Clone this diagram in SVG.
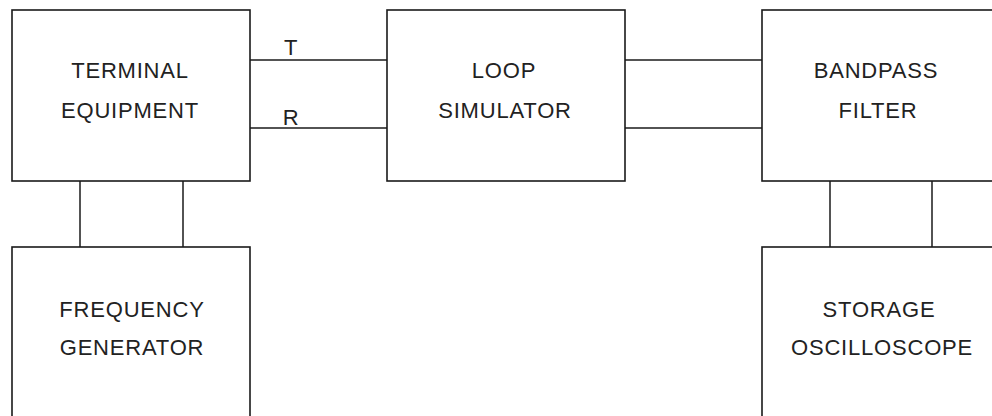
<svg xmlns="http://www.w3.org/2000/svg" width="992" height="416" viewBox="0 0 992 416">
<style>
.box{fill:#fff;stroke:#1a1a1a;stroke-width:1.6}
.wire{fill:none;stroke:#1a1a1a;stroke-width:1.5}
text{font-family:"Liberation Sans",Arial,sans-serif;font-size:22px;fill:#222;text-anchor:middle;letter-spacing:0.8px}
</style>
<rect width="992" height="416" fill="#fff"/>
<g id="connectors">
<line class="wire" x1="250" y1="60" x2="387" y2="60"/>
<line class="wire" x1="250" y1="128" x2="387" y2="128"/>
<line class="wire" x1="625" y1="60" x2="762" y2="60"/>
<line class="wire" x1="625" y1="128" x2="762" y2="128"/>
<line class="wire" x1="80" y1="181" x2="80" y2="247"/>
<line class="wire" x1="183" y1="181" x2="183" y2="247"/>
<line class="wire" x1="830" y1="181" x2="830" y2="247"/>
<line class="wire" x1="932" y1="181" x2="932" y2="247"/>
<text x="291" y="55">T</text>
<text x="291" y="125">R</text>
</g>
<g id="terminal">
<rect class="box" x="12" y="10" width="238" height="171"/>
<text x="130" y="78">TERMINAL</text>
<text x="130" y="118">EQUIPMENT</text>
</g>
<g id="loop">
<rect class="box" x="387" y="10" width="238" height="171"/>
<text x="504" y="78">LOOP</text>
<text x="505" y="118">SIMULATOR</text>
</g>
<g id="bandpass">
<rect class="box" x="762" y="10" width="300" height="171"/>
<text x="876" y="78">BANDPASS</text>
<text x="878" y="118">FILTER</text>
</g>
<g id="freqgen">
<rect class="box" x="12" y="247" width="238" height="300"/>
<text x="132" y="317">FREQUENCY</text>
<text x="132" y="355">GENERATOR</text>
</g>
<g id="scope">
<rect class="box" x="762" y="247" width="300" height="300"/>
<text x="879" y="317">STORAGE</text>
<text x="882" y="355">OSCILLOSCOPE</text>
</g>
</svg>
